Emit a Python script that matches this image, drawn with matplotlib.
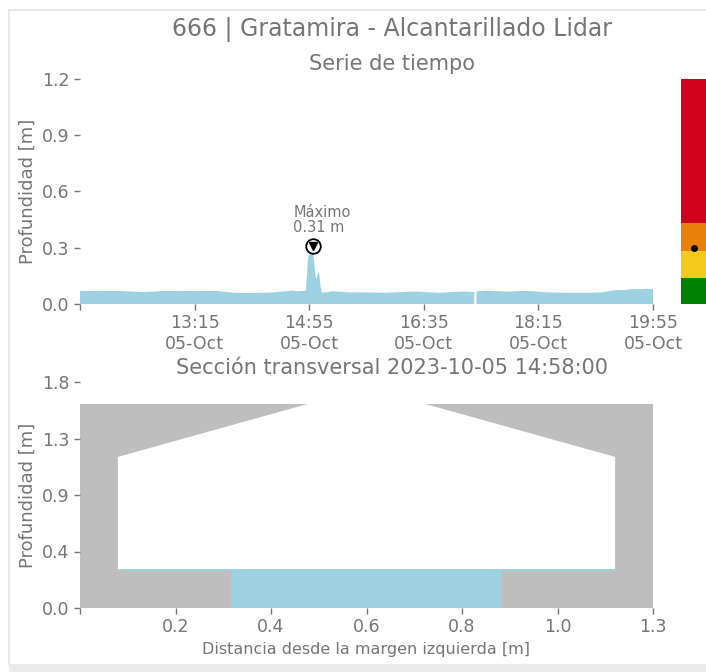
import matplotlib
matplotlib.use("Agg")
import matplotlib.pyplot as plt
from matplotlib.lines import Line2D
from matplotlib.patches import Rectangle
import numpy as np
from datetime import datetime

# ---- time series (2023-10-05) ----
TS_TIMES = ["11:35", "11:45", "11:55", "12:05", "12:15", "12:20", "12:30", "12:40",
            "12:45", "12:55", "13:05", "13:15", "13:25", "13:35", "13:45", "13:55",
            "14:05", "14:15", "14:25", "14:30", "14:35", "14:40", "14:45", "14:50",
            "14:52", "14:53", "14:54", "14:55", "14:57", "14:58", "14:59", "15:00",
            "15:01", "15:02", "15:03", "15:04", "15:05", "15:06", "15:10", "15:15",
            "15:20", "15:30", "15:40", "15:50", "16:00", "16:10", "16:20", "16:30",
            "16:40", "16:50", "17:00", "17:10", "17:19", "17:20", "17:21", "17:30",
            "17:40", "17:50", "18:00", "18:10", "18:20", "18:30", "18:40", "18:50",
            "19:00", "19:10", "19:20", "19:25", "19:30", "19:35", "19:40", "19:45",
            "19:50", "19:55"]
TS_DEPTH = [0.070, 0.070, 0.069, 0.070, 0.068, 0.066, 0.064, 0.066,
            0.069, 0.070, 0.070, 0.069, 0.070, 0.069, 0.062, 0.059,
            0.059, 0.060, 0.062, 0.066, 0.068, 0.072, 0.068, 0.070,
            0.072, 0.150, 0.240, 0.270, 0.290, 0.310, 0.240, 0.180,
            0.130, 0.150, 0.175, 0.150, 0.090, 0.060, 0.062, 0.068,
            0.066, 0.062, 0.062, 0.061, 0.060, 0.062, 0.065, 0.066,
            0.062, 0.060, 0.064, 0.066, 0.064, np.nan, 0.068, 0.070,
            0.068, 0.066, 0.070, 0.068, 0.063, 0.061, 0.060, 0.060,
            0.060, 0.062, 0.072, 0.075, 0.074, 0.078, 0.080, 0.079,
            0.081, 0.080]
MAX_TIME = "14:58"
MAX_DEPTH = 0.31
CURRENT_DEPTH = 0.30

# alert bands (m)
BAND_EDGES = [0.0, 0.14, 0.28, 0.43, 1.2]
BAND_COLORS = ["#008000", "#F5C81E", "#E8800C", "#D0021B"]

# ---- cross section ----
SECTION_WIDTH = 1.255
SECTION_TOP = 1.58
SEC_X = [0.083, 0.083, 0.499, 0.756, 1.172, 1.172, 0.924, 0.924, 0.331, 0.331]
SEC_Z = [0.29, 1.17, 1.58, 1.58, 1.17, 0.29, 0.29, 0.0, 0.0, 0.29]
BED_X = [0.083, 0.331, 0.331, 0.924, 0.924, 1.172]
BED_Z = [0.29, 0.29, 0.0, 0.0, 0.29, 0.29]
WATER_LEVEL = 0.30

TXT = "#757575"
WATER = "#9DD1E1"
WALL = "#BEBEBE"

plt.rcParams['font.family'] = 'DejaVu Sans'


def t(hm):
    return datetime.strptime("2023-10-05 " + hm, "%Y-%m-%d %H:%M")


def style(ax):
    for s in ax.spines.values():
        s.set_visible(False)
    ax.tick_params(colors=TXT, labelcolor=TXT, labelsize=12.5, length=4, width=1)


fig = plt.figure(figsize=(7.06, 6.72), dpi=100)

# page frame
fig.add_artist(Line2D([9 / 706, 1], [1 - 10 / 672] * 2, transform=fig.transFigure,
                      color="#E8E8E8", lw=1.5))
fig.add_artist(Line2D([9 / 706] * 2, [8 / 672, 1 - 10 / 672], transform=fig.transFigure,
                      color="#E8E8E8", lw=1.5))
fig.add_artist(Rectangle((9 / 706, 0), 1, 8 / 672, transform=fig.transFigure,
                         facecolor="#EBEBEB", edgecolor="none"))

cx = 392 / 706
fig.text(cx, 1 - 30 / 672, "666 | Gratamira - Alcantarillado Lidar", ha="center",
         va="center", fontsize=17, color=TXT)
fig.text(cx, 1 - 64 / 672, "Serie de tiempo", ha="center", va="center",
         fontsize=15, color=TXT)
fig.text(cx, 1 - 368 / 672, "Sección transversal 2023-10-05 14:58:00", ha="center",
         va="center", fontsize=15, color=TXT)

# time series
ax1 = fig.add_axes([80 / 706, 1 - 304 / 672, 573 / 706, 225 / 672])
style(ax1)
times = [t(x) for x in TS_TIMES]
ax1.fill_between(times, 0, TS_DEPTH, color=WATER, lw=0)
ax1.set_ylim(0, 1.2)
ax1.set_xlim(t("11:35"), t("19:55"))
yt = np.linspace(0, 1.2, 5)
ax1.set_yticks(yt)
ax1.set_yticklabels([f"{v:.1f}" for v in yt])
xt = [t(x) for x in ["11:35", "13:15", "14:55", "16:35", "18:15", "19:55"]]
ax1.set_xticks(xt)
ax1.set_xticklabels([""] + [d.strftime("%H:%M\n%d-%b") for d in xt[1:]])
ax1.set_ylabel("Profundidad [m]", fontsize=13, color=TXT)
ax1.plot(t(MAX_TIME), MAX_DEPTH, "o", ms=10.5, mfc="white", mec="black", mew=1.3, zorder=5)
ax1.plot(t(MAX_TIME), MAX_DEPTH, "v", ms=5.5, color="black", zorder=6)
ax1.annotate(f"Máximo\n{MAX_DEPTH:.2f} m", (t(MAX_TIME), MAX_DEPTH), xytext=(-14, 8),
             textcoords="offset points", ha="left", va="bottom", fontsize=10.5,
             color=TXT, linespacing=1.0)

# alert bar
ax3 = fig.add_axes([681 / 706, 1 - 304 / 672, 25 / 706, 225 / 672])
for lo, hi, c in zip(BAND_EDGES[:-1], BAND_EDGES[1:], BAND_COLORS):
    ax3.bar(0, hi - lo, bottom=lo, width=1, color=c, lw=0)
ax3.plot(0, CURRENT_DEPTH, "o", ms=4, color="black")
ax3.set_xlim(-0.5, 0.5)
ax3.set_ylim(0, 1.2)
ax3.axis("off")

# cross section
ax2 = fig.add_axes([80 / 706, 1 - 608 / 672, 573 / 706, 226 / 672])
style(ax2)
ax2.fill_between([0, SECTION_WIDTH], 0, SECTION_TOP, color=WALL, lw=0)
ax2.fill(SEC_X, SEC_Z, color="white", lw=0)
bz = np.array(BED_Z)
ax2.fill_between(BED_X, bz, WATER_LEVEL, where=WATER_LEVEL > bz - 1, color=WATER, lw=0)
ax2.set_xlim(0, SECTION_WIDTH)
ax2.set_ylim(0, 1.75)
xs = np.linspace(0, SECTION_WIDTH, 7)
ax2.set_xticks(xs)
ax2.set_xticklabels([""] + [f"{v:.1f}" for v in xs[1:]])
ys = np.linspace(0, 1.75, 5)
ax2.set_yticks(ys)
ax2.set_yticklabels([f"{v:.1f}" for v in ys])
ax2.set_ylabel("Profundidad [m]", fontsize=13, color=TXT)
ax2.set_xlabel("Distancia desde la margen izquierda [m]", fontsize=11.5, color=TXT, labelpad=4)

fig.savefig("out.png", dpi=100, facecolor="white")
